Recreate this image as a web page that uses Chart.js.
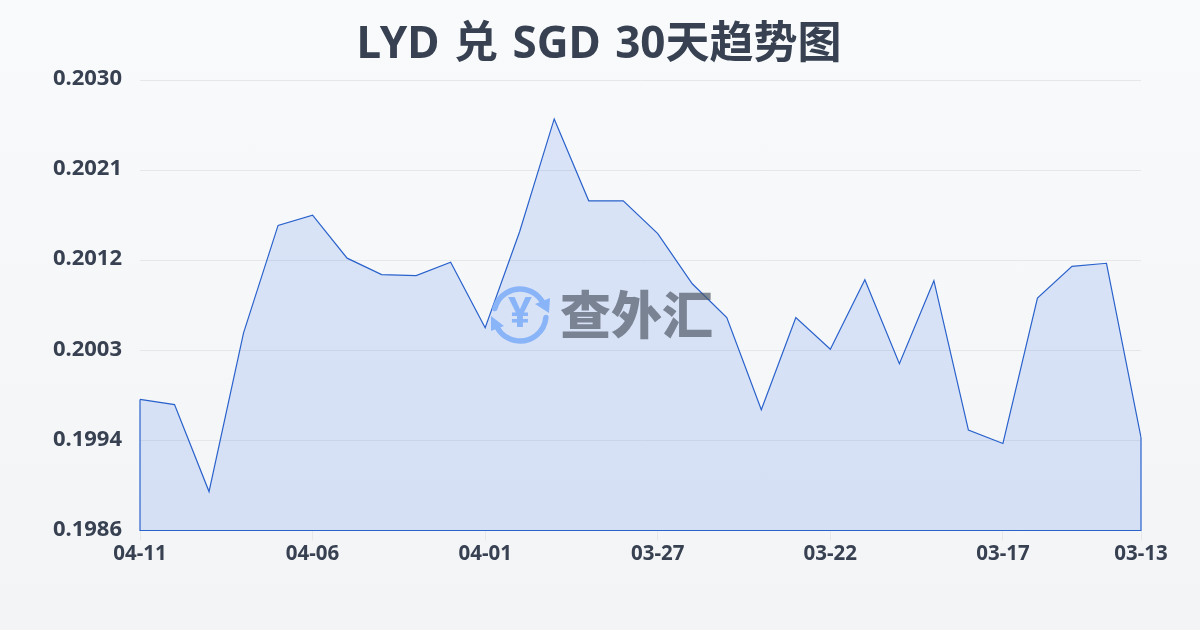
<!DOCTYPE html>
<html lang="zh-CN">
<head>
<meta charset="utf-8">
<script src="https://cdn.jsdelivr.net/npm/chart.js@4/dist/chart.umd.min.js"></script>
<style>
html,body{margin:0;padding:0;width:1200px;height:630px;overflow:hidden;background:linear-gradient(180deg,#f9fafb 0%,#f3f4f6 100%)}
#w{position:absolute;left:0;top:0;width:1200px;height:630px}
</style>
</head>
<body>
<div id="w"><canvas id="c" width="1200" height="630"></canvas></div>
<script>
const titleText = 'LYD 兑 SGD 30天趋势图';
const categories = ['04-11','04-10','04-09','04-08','04-07','04-06','04-05','04-04','04-03','04-02','04-01','03-31','03-30','03-29','03-28','03-27','03-26','03-25','03-24','03-23','03-22','03-21','03-20','03-19','03-18','03-17','03-16','03-15','03-14','03-13'];
const rates = [0.19988,0.19983,0.19898,0.20053,0.20158,0.20168,0.20126,0.20110,0.20109,0.20122,0.20058,0.20152,0.20262,0.20182,0.20182,0.20150,0.20101,0.20068,0.19978,0.20068,0.20037,0.20105,0.20023,0.20104,0.19958,0.19945,0.20087,0.20118,0.20121,0.19951];
const yTickValues = [0.1986,0.19948,0.20036,0.20124,0.20212,0.2030];
const yTickLabels = ['0.1986','0.1994','0.2003','0.2012','0.2021','0.2030'];
const xTickIndexes = [0,5,10,15,20,25,29];
const watermarkText = '查外汇';
const FONT = "'Noto Sans','Noto Sans CJK SC',sans-serif";
const LINE = '#2a62cc';
const TEXT = '#374151';

const titleDraw = {
  id:'titleDraw',
  afterDraw(chart){
    const {ctx} = chart;
    ctx.save();
    ctx.fillStyle = TEXT;
    ctx.font = "bold 44px "+FONT;
    ctx.wordSpacing = '3px';
    ctx.textAlign = 'center'; ctx.textBaseline = 'middle';
    ctx.fillText(titleText,599,45);
    ctx.restore();
  }
};
const closeOutline = {
  id:'closeOutline',
  afterDatasetsDraw(chart){
    const {ctx,scales:{x,y}} = chart;
    const n = rates.length-1, b = y.getPixelForValue(y.min);
    ctx.save();
    ctx.strokeStyle = LINE; ctx.lineWidth = 1.2;
    ctx.beginPath();
    ctx.moveTo(x.getPixelForValue(0), y.getPixelForValue(rates[0]));
    ctx.lineTo(x.getPixelForValue(0), b);
    ctx.lineTo(x.getPixelForValue(n), b);
    ctx.lineTo(x.getPixelForValue(n), y.getPixelForValue(rates[n]));
    ctx.stroke();
    ctx.restore();
  }
};
const watermark = {
  id:'watermark',
  afterDatasetsDraw(chart){
    const {ctx} = chart;
    const cx = 520, cy = 315, r = 26;
    ctx.save();
    ctx.strokeStyle = '#8ab4f8'; ctx.fillStyle = '#8ab4f8';
    ctx.lineWidth = 5.5; ctx.lineCap = 'round';
    ctx.beginPath(); ctx.arc(cx,cy,r,Math.PI*1.08,Math.PI*1.82); ctx.stroke();
    ctx.beginPath(); ctx.arc(cx,cy,r,Math.PI*0.03,Math.PI*0.85); ctx.stroke();
    ctx.beginPath(); ctx.moveTo(550,298); ctx.lineTo(549,313); ctx.lineTo(535,304); ctx.closePath(); ctx.fill();
    ctx.beginPath(); ctx.moveTo(491,331); ctx.lineTo(491,316); ctx.lineTo(504,326); ctx.closePath(); ctx.fill();
    ctx.font = "bold 42px "+FONT; ctx.textAlign='center'; ctx.textBaseline='middle';
    ctx.fillText('¥',cx,cy);
    ctx.fillStyle = 'rgba(75,85,99,0.68)';
    ctx.font = "900 51px 'Noto Sans CJK SC',sans-serif";
    ctx.textAlign='left';
    ctx.fillText(watermarkText,560,315);
    ctx.restore();
  }
};

new Chart(document.getElementById('c'),{
  type:'line',
  data:{labels:categories,datasets:[{
    data:rates,
    borderColor:LINE,borderWidth:1.2,tension:0,pointRadius:0,
    fill:'start',backgroundColor:'rgba(37,99,235,0.14)'
  }]},
  plugins:[closeOutline,watermark,titleDraw],
  options:{
    responsive:false,animation:false,
    layout:{padding:{left:0,right:59,top:80,bottom:0}},
    plugins:{
      legend:{display:false},tooltip:{enabled:false},title:{display:false}
    },
    scales:{
      x:{
        type:'category',offset:false,
        afterFit(s){s.height=99.5;},
        afterBuildTicks(s){s.ticks=xTickIndexes.map(i=>({value:i}));},
        grid:{display:true,drawOnChartArea:false,drawTicks:true,tickLength:10,color:'#e5e7eb'},
        border:{display:false},
        ticks:{autoSkip:false,maxRotation:0,minRotation:0,padding:1,color:TEXT,
          font:{family:FONT,size:20.5,weight:'bold'},
          callback(v){return categories[v];}}
      },
      y:{
        type:'linear',min:0.1986,max:0.2030,
        afterFit(s){s.width=140;},
        afterBuildTicks(s){s.ticks=yTickValues.map(v=>({value:v}));},
        grid:{color:'#e5e7eb',drawTicks:false,lineWidth:1},
        border:{display:false},
        ticks:{padding:18,labelOffset:-1,color:TEXT,
          font:{family:FONT,size:22,weight:'bold'},
          callback(v){const i=yTickValues.indexOf(v);return yTickLabels[i];}}
      }
    }
  }
});
</script>
</body>
</html>
